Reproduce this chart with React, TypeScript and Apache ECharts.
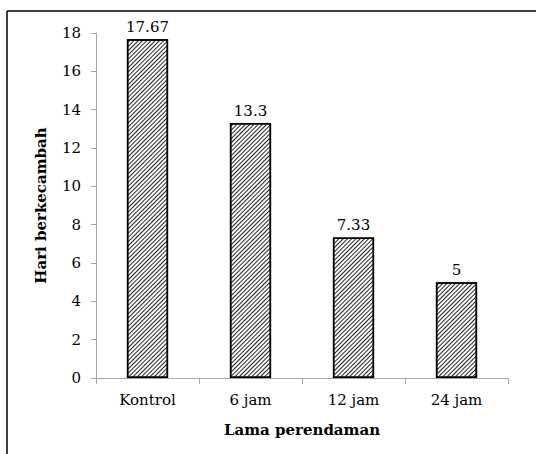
import React, { useEffect, useRef } from "react";
import * as echarts from "echarts";

const categories = ["Kontrol", "6 jam", "12 jam", "24 jam"];
const values = [17.67, 13.3, 7.33, 5];
const yTicks = { min: 0, max: 18, interval: 2 };
const xTitle = "Lama perendaman";
const yTitle = "Hari berkecambah";

const FONT = "DejaVu Serif";

export default function App() {
  const ref = useRef<HTMLDivElement>(null);
  useEffect(() => {
    if (!ref.current) return;
    const chart = echarts.init(ref.current, null, { renderer: "svg" });
    chart.setOption({
      animation: false,
      backgroundColor: "#fff",
      textStyle: { fontFamily: FONT },
      grid: { left: 96, top: 33, right: 28, bottom: 76, containLabel: false },
      xAxis: {
        type: "category",
        data: categories,
        boundaryGap: true,
        name: xTitle,
        nameLocation: "middle",
        nameGap: 44,
        nameTextStyle: { fontFamily: FONT, fontSize: 15, fontWeight: "bold", color: "#000" },
        axisLine: { show: true, lineStyle: { color: "#a6a6a6", width: 1 } },
        axisTick: { show: true, length: 6, lineStyle: { color: "#a6a6a6" } },
        axisLabel: { fontFamily: FONT, fontSize: 15, color: "#000", margin: 14 },
        splitLine: { show: false },
      },
      yAxis: {
        type: "value",
        min: yTicks.min,
        max: yTicks.max,
        interval: yTicks.interval,
        name: yTitle,
        nameLocation: "middle",
        nameGap: 48,
        nameTextStyle: { fontFamily: FONT, fontSize: 15, fontWeight: "bold", color: "#000" },
        axisLine: { show: true, lineStyle: { color: "#a6a6a6", width: 1 } },
        axisTick: { show: true, length: 5, lineStyle: { color: "#a6a6a6" } },
        axisLabel: { fontFamily: FONT, fontSize: 15, color: "#000", margin: 15 },
        splitLine: { show: false },
      },
      series: [
        {
          type: "bar",
          data: values,
          barCategoryGap: "60%",
          itemStyle: {
            color: "#ffffff",
            borderColor: "#000",
            borderWidth: 1.5,
            decal: {
              symbol: "rect",
              symbolSize: 1,
              dashArrayX: [1, 0],
              dashArrayY: [1, 2],
              rotation: -Math.PI / 4,
              color: "#222",
              backgroundColor: "#fff",
            },
          },
          label: {
            show: true,
            position: "top",
            distance: 5,
            fontFamily: FONT,
            fontSize: 15,
            color: "#000",
          },
        },
      ],
      graphic: [
        { type: "line", shape: { x1: 7, y1: 11, x2: 536, y2: 11 }, style: { stroke: "#000", lineWidth: 1.5 } },
        { type: "line", shape: { x1: 7, y1: 11, x2: 7, y2: 454 }, style: { stroke: "#000", lineWidth: 1.5 } },
      ],
    });
    return () => chart.dispose();
  }, []);
  return (
    <div
      ref={ref}
      style={{ position: "absolute", left: 0, top: 0, width: 536, height: 454 }}
    />
  );
}
